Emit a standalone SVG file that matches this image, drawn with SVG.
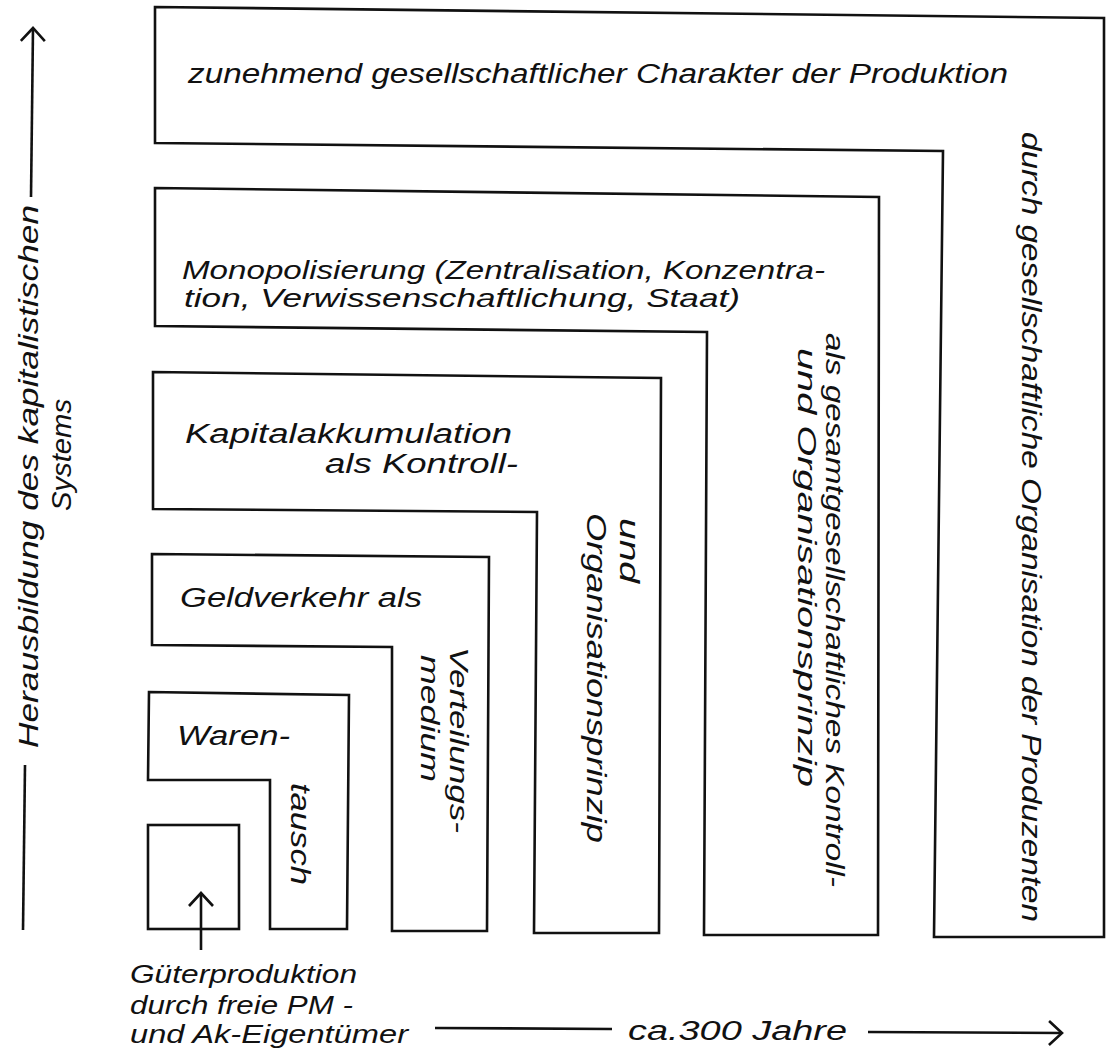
<svg xmlns="http://www.w3.org/2000/svg" width="1106" height="1054" viewBox="0 0 1106 1054">
<style>
.shape{fill:none;stroke:#111;stroke-width:2.6;stroke-linejoin:miter}
.ln{fill:none;stroke:#111;stroke-width:2.6}
text{font-family:"Liberation Sans","Open Sans",sans-serif;font-style:italic;font-size:27px;fill:#111}
.st{font-size:25px}
</style>
<defs>
<marker id="arr" markerUnits="userSpaceOnUse" markerWidth="32" markerHeight="32" viewBox="-16 -16 32 32" refX="0" refY="0" orient="auto">
<path d="M-13,-12 L0,0 L-13,12" fill="none" stroke="#111" stroke-width="2.6"/>
</marker>
</defs>
<rect width="1106" height="1054" fill="#fff"/>

<g id="stage-production">
<path class="shape" d="M155,7 L1104,18 L1104,937 L934,937 L943,151 L155,143 Z"/>
<text x="188" y="83" textLength="820" lengthAdjust="spacingAndGlyphs">zunehmend gesellschaftlicher Charakter der Produktion</text>
<text transform="translate(1022,132) rotate(90)" textLength="790" lengthAdjust="spacingAndGlyphs">durch gesellschaftliche Organisation der Produzenten</text>
</g>

<g id="stage-monopol">
<path class="shape" d="M155,188 L879,197 L878,935 L704,935 L707,332 L155,326 Z"/>
<text class="st" x="182" y="279" textLength="643" lengthAdjust="spacingAndGlyphs">Monopolisierung (Zentralisation, Konzentra-</text>
<text class="st" x="184" y="307" textLength="556" lengthAdjust="spacingAndGlyphs">tion, Verwissenschaftlichung, Staat)</text>
<text class="st" transform="translate(826,333) rotate(90)" textLength="554" lengthAdjust="spacingAndGlyphs">als gesamtgesellschaftliches Kontroll-</text>
<text class="st" transform="translate(798,348) rotate(90)" textLength="439" lengthAdjust="spacingAndGlyphs">und Organisationsprinzip</text>
</g>

<g id="stage-kapital">
<path class="shape" d="M153,372 L661,378 L659,933 L534,933 L537,512 L153,509 Z"/>
<text x="185" y="443" textLength="327" lengthAdjust="spacingAndGlyphs">Kapitalakkumulation</text>
<text x="325" y="473" textLength="193" lengthAdjust="spacingAndGlyphs">als Kontroll-</text>
<text transform="translate(620,518) rotate(90)" textLength="65" lengthAdjust="spacingAndGlyphs">und</text>
<text transform="translate(587,513) rotate(90)" textLength="330" lengthAdjust="spacingAndGlyphs">Organisationsprinzip</text>
</g>

<g id="stage-geld">
<path class="shape" d="M152,554 L489,557 L487,931 L392,931 L392,647 L152,645 Z"/>
<text x="180" y="607" textLength="242" lengthAdjust="spacingAndGlyphs">Geldverkehr als</text>
<text class="st" transform="translate(450,647) rotate(90)" textLength="186" lengthAdjust="spacingAndGlyphs">Verteilungs-</text>
<text class="st" transform="translate(421,655) rotate(90)" textLength="127" lengthAdjust="spacingAndGlyphs">medium</text>
</g>

<g id="stage-waren">
<path class="shape" d="M149,692 L349,695 L347,929 L270,929 L270,780 L148,780 Z"/>
<text x="177" y="745" textLength="113" lengthAdjust="spacingAndGlyphs">Waren-</text>
<text transform="translate(291,783) rotate(90)" textLength="102" lengthAdjust="spacingAndGlyphs">tausch</text>
</g>

<g id="stage-gueter">
<rect class="shape" x="148" y="825" width="91" height="104"/>
</g>

<g id="labels">
<text class="st" x="130" y="983" textLength="227" lengthAdjust="spacingAndGlyphs">Güterproduktion</text>
<text class="st" x="130" y="1014" textLength="223" lengthAdjust="spacingAndGlyphs">durch freie PM -</text>
<text class="st" x="130" y="1043" textLength="278" lengthAdjust="spacingAndGlyphs">und Ak-Eigentümer</text>
<text x="628" y="1040" textLength="219" lengthAdjust="spacingAndGlyphs">ca.300 Jahre</text>
<text transform="translate(38,748) rotate(-90)" textLength="543" lengthAdjust="spacingAndGlyphs">Herausbildung des kapitalistischen</text>
<text transform="translate(71,455) rotate(-90)" text-anchor="middle" textLength="112" lengthAdjust="spacingAndGlyphs">Systems</text>
</g>

<g id="connectors">
<line class="ln" x1="23" y1="930" x2="25" y2="765"/>
<line class="ln" x1="31" y1="197" x2="33" y2="28" marker-end="url(#arr)"/>
<line class="ln" x1="201" y1="950" x2="201" y2="893" marker-end="url(#arr)"/>
<line class="ln" x1="435" y1="1028" x2="612" y2="1029"/>
<line class="ln" x1="868" y1="1032" x2="1062" y2="1033" marker-end="url(#arr)"/>
</g>
</svg>
